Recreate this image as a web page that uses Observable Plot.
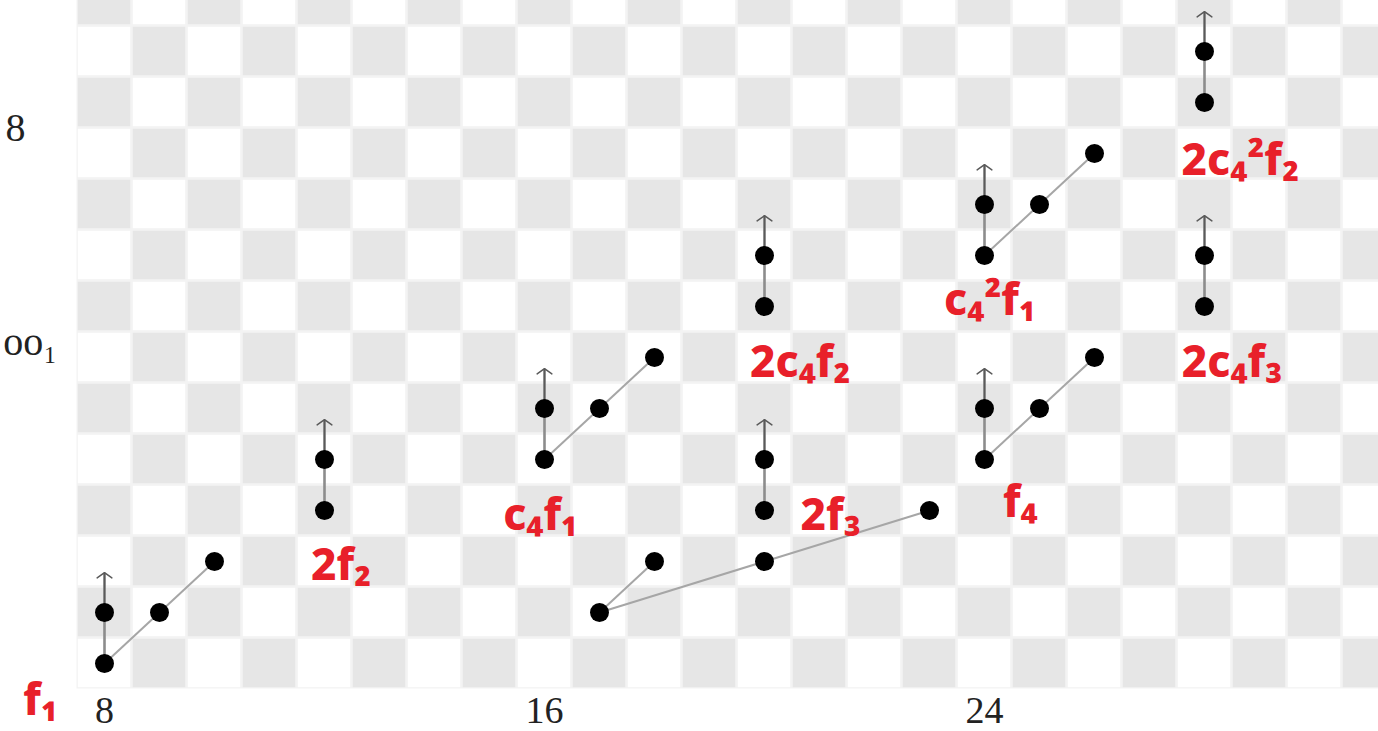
<!DOCTYPE html>
<html>
<head>
<meta charset="utf-8">
<script src="https://cdn.jsdelivr.net/npm/d3@7"></script>
<script src="https://cdn.jsdelivr.net/npm/@observablehq/plot@0.6"></script>
<style>
  html, body { margin: 0; padding: 0; background: #fff; overflow: hidden; }
</style>
</head>
<body>
<div id="chart"></div>
<script>
// Classes of the chart: [stem, filtration]
const classes = [
  [8, 0], [8, 1], [9, 1], [10, 2],
  [12, 3], [12, 4],
  [16, 4], [16, 5], [17, 5], [18, 6],
  [17, 1], [18, 2], [20, 2], [23, 3],
  [20, 3], [20, 4],
  [20, 7], [20, 8],
  [24, 4], [24, 5], [25, 5], [26, 6],
  [24, 8], [24, 9], [25, 9], [26, 10],
  [28, 7], [28, 8],
  [28, 11], [28, 12]
];

// Vertical (h0) multiplications: [stem1, filt1, stem2, filt2]
const h0Lines = [
  [8, 0, 8, 1], [12, 3, 12, 4], [16, 4, 16, 5], [20, 3, 20, 4], [20, 7, 20, 8],
  [24, 4, 24, 5], [24, 8, 24, 9], [28, 7, 28, 8], [28, 11, 28, 12]
];

// Diagonal (h1) multiplications
const h1Lines = [
  [8, 0, 9, 1], [9, 1, 10, 2],
  [16, 4, 17, 5], [17, 5, 18, 6],
  [17, 1, 18, 2],
  [24, 4, 25, 5], [25, 5, 26, 6],
  [24, 8, 25, 9], [25, 9, 26, 10]
];

// Long (h2) multiplications
const h2Lines = [
  [17, 1, 20, 2], [20, 2, 23, 3]
];

// Tops of infinite h0-towers
const towers = [
  [8, 1], [12, 4], [16, 5], [20, 4], [20, 8], [24, 5], [24, 9], [28, 8], [28, 12]
];
const towerLength = 0.78;

// Generator names: [stem, filtration, name]
const names = [
  [6.84, -0.73, "f₁"],
  [12.3, 1.92, "2f₂"],
  [15.93, 2.9, "c₄f₁"],
  [20.65, 5.9, "2c₄f₂"],
  [21.2, 2.9, "2f₃"],
  [24.65, 3.15, "f₄"],
  [24.1, 7.1, "c₄²f₁"],
  [28.5, 5.9, "2c₄f₃"],
  [28.65, 9.85, "2c₄²f₂"]
];

// Stem tick labels
const stemTicks = [8, 16, 24];

// Row labels along the left edge: [stem, filtration, label, style, size]
const rowLabels = [
  [6.2, 10.5, "8", "normal", 40],
  [6.16, 6.3, "oo₁", "italic", 40]
];

// Checkerboard cells behind the chart
const stems = d3.range(8, 32);
const rows = d3.range(0, 14);
const cells = stems.flatMap(s => rows.map(r => ({s, r, dark: (s + r) % 2 === 1})));
const board = [{x1: d3.min(stems) - 0.5, x2: d3.max(stems) + 0.5, y1: d3.min(rows) - 0.5, y2: d3.max(rows) + 0.5}];

const seg = a => ({x1: a[0], y1: a[1], x2: a[2], y2: a[3]});

const plot = Plot.plot({
  width: 1378,
  height: 731,
  margin: 0,
  x: {domain: [8, 28], range: [104, 1204], axis: null},
  y: {domain: [0, 12], range: [663, 51], axis: null},
  style: {background: "#fff", overflow: "hidden"},
  marks: [
    Plot.rect(board, {x1: "x1", x2: "x2", y1: "y1", y2: "y2", fill: "#f3f3f3"}),
    Plot.rect(cells, {
      x1: d => d.s - 0.5, x2: d => d.s + 0.5,
      y1: d => d.r - 0.5, y2: d => d.r + 0.5,
      fill: d => d.dark ? "#e6e6e6" : "#ffffff",
      inset: 1.3
    }),
    Plot.link(h2Lines.map(seg), {x1: "x1", y1: "y1", x2: "x2", y2: "y2", stroke: "#a6a6a6", strokeWidth: 2}),
    Plot.link(h1Lines.map(seg), {x1: "x1", y1: "y1", x2: "x2", y2: "y2", stroke: "#a6a6a6", strokeWidth: 2}),
    Plot.link(h0Lines.map(seg), {x1: "x1", y1: "y1", x2: "x2", y2: "y2", stroke: "#8c8c8c", strokeWidth: 2.6}),
    Plot.link(towers, {x1: d => d[0], y1: d => d[1], x2: d => d[0], y2: d => d[1] + towerLength, stroke: "#8c8c8c", strokeWidth: 2.6}),
    Plot.arrow(towers, {
      x1: d => d[0], y1: d => d[1], x2: d => d[0], y2: d => d[1] + towerLength,
      stroke: "#5a5a5a", strokeWidth: 1.5, headLength: 9, headAngle: 110, insetEnd: 0, insetStart: 0
    }),
    Plot.dot(classes, {x: d => d[0], y: d => d[1], r: 9.5, fill: "#000"}),
    Plot.text(stemTicks, {
      x: d => d, y: () => -0.92, text: d => String(d),
      fontFamily: "Liberation Serif, DejaVu Serif, serif", fontSize: 38, fill: "#222"
    }),
    Plot.text(rowLabels, {
      x: d => d[0], y: d => d[1], text: d => d[2], textAnchor: "start",
      fontFamily: "Liberation Serif, DejaVu Serif, serif", fill: "#222",
      fontStyle: d => d[3], fontSize: d => d[4]
    }),
    Plot.text(names, {
      x: d => d[0], y: d => d[1], text: d => d[2],
      fill: "#e8202a", fontSize: 44, fontWeight: 800,
      fontFamily: "Noto Sans, Lato, sans-serif",
      ariaLabel: "names"
    })
  ]
});

// Handwritten-style spacing for the red generator names
d3.select(plot).selectAll('g[aria-label="names"] text').style("letter-spacing", "4px");

document.getElementById("chart").appendChild(plot);
</script>
</body>
</html>
